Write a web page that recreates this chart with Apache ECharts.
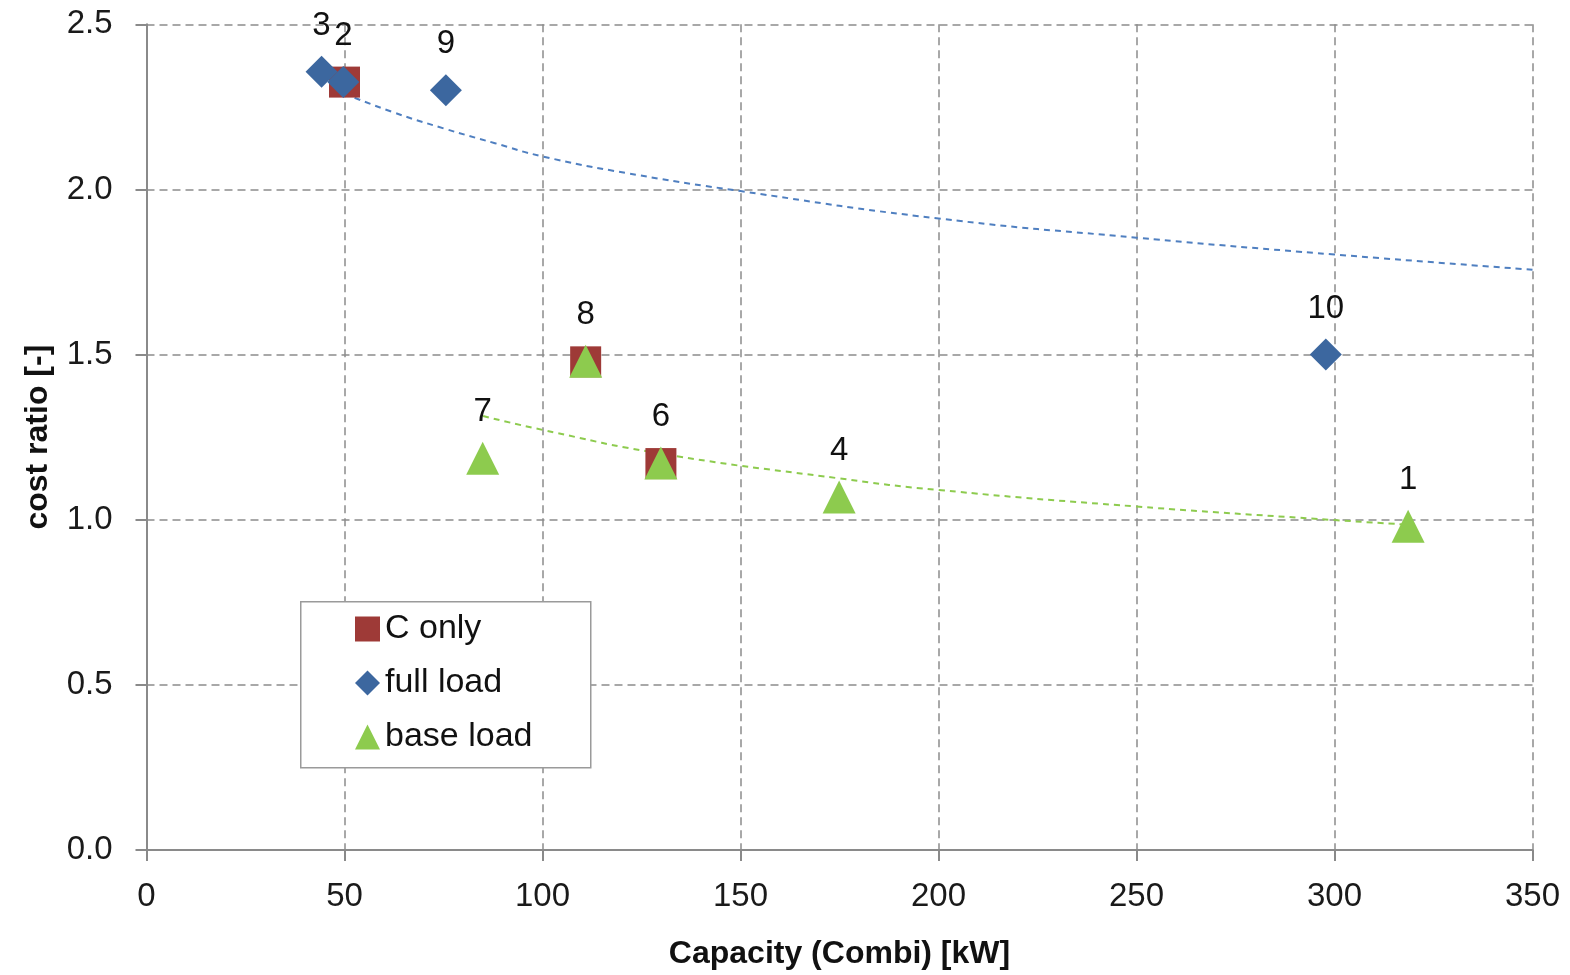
<!DOCTYPE html>
<html>
<head>
<meta charset="utf-8">
<script src="https://cdn.jsdelivr.net/npm/echarts@6/dist/echarts.min.js"></script>
<style>html,body{margin:0;padding:0;background:#fff;}#c{width:1570px;height:975px;}</style>
</head>
<body>
<div id="c"></div>
<script>
// ---- data ----
var cOnlyX = [50, 110.9, 129.9];
var cOnlyY = [2.325, 1.478, 1.17];

var fullLoadX = [44.2, 49.7, 75.6, 297.8];
var fullLoadY = [2.356, 2.325, 2.30, 1.50];
var fullLoadLabels = ['3', '2', '9', '10'];

var baseLoadX = [110.9, 84.9, 129.9, 174.9, 318.6];
var baseLoadY = [1.48, 1.186, 1.172, 1.069, 0.98];
var baseLoadLabels = ['8', '7', '6', '4', '1'];

// trend lines
var fullTrendX = [50, 62, 75, 88, 100, 121, 150, 200, 250, 300, 350];
var fullTrendY = [2.29, 2.235, 2.185, 2.14, 2.10, 2.05, 1.995, 1.912, 1.854, 1.803, 1.757];
var baseTrendX = [85, 100, 130, 175, 200, 250, 300, 320];
var baseTrendY = [1.314, 1.272, 1.20, 1.125, 1.09, 1.04, 0.999, 0.984];

var xTicks = {min: 0, max: 350, interval: 50};
var yTicks = {min: 0, max: 2.5, interval: 0.5};

function pts(xs, ys, labels) {
  return xs.map(function (x, i) {
    var d = {value: [x, ys[i]]};
    if (labels) d.name = labels[i];
    return d;
  });
}

var FONT = '"Liberation Sans", Arial, sans-serif';
var RED = '#9E3A37', BLUE = '#3C679F', GREEN = '#8DCB4E';
var axisColor = '#8a8a8a';

var labelStyle = {
  show: true, position: 'inside', offset: [0, -46], formatter: '{b}',
  fontSize: 33, color: '#111', fontFamily: FONT
};

var chart = echarts.init(document.getElementById('c'), null, {renderer: 'canvas'});
chart.setOption({
  animation: false,
  backgroundColor: '#fff',
  grid: {left: 146.5, right: 37.5, top: 24.3, bottom: 125},
  xAxis: {
    type: 'value', min: xTicks.min, max: xTicks.max, interval: xTicks.interval,
    name: 'Capacity (Combi) [kW]', nameLocation: 'middle', nameGap: 88,
    nameTextStyle: {fontSize: 32, fontWeight: 'bold', color: '#111', fontFamily: FONT},
    axisLine: {show: true, onZero: false, lineStyle: {color: axisColor, width: 2}},
    axisTick: {show: true, inside: false, length: 11, lineStyle: {color: axisColor, width: 2}},
    axisLabel: {fontSize: 33, color: '#1a1a1a', margin: 30, fontFamily: FONT},
    splitLine: {show: true, lineStyle: {color: '#8c8c8c', width: 1.5, type: [8, 5]}}
  },
  yAxis: {
    type: 'value', min: yTicks.min, max: yTicks.max, interval: yTicks.interval,
    name: 'cost ratio [-]', nameLocation: 'middle', nameGap: 92,
    nameTextStyle: {fontSize: 32, fontWeight: 'bold', color: '#111', fontFamily: FONT},
    axisLine: {show: true, lineStyle: {color: axisColor, width: 2}},
    axisTick: {show: true, inside: false, length: 11, lineStyle: {color: axisColor, width: 2}},
    axisLabel: {fontSize: 33, color: '#1a1a1a', margin: 34, fontFamily: FONT,
      formatter: function (v) { return v.toFixed(1); }},
    splitLine: {show: true, lineStyle: {color: '#8c8c8c', width: 1.5, type: [8, 5]}}
  },
  legend: {
    orient: 'vertical', left: 355, top: 612, itemGap: 20, itemTextGap: 8,
    itemWidth: 25, itemHeight: 25, padding: 0, z: 60,
    data: ['C only', 'full load', 'base load'],
    textStyle: {fontSize: 34, color: '#111', fontFamily: FONT},
    itemStyle: {borderWidth: 0}
  },
  graphic: [{
    type: 'rect', z: 50, left: 300, top: 601,
    shape: {width: 290, height: 166},
    style: {fill: '#fff', stroke: '#9a9a9a', lineWidth: 1.5}
  }],
  series: [
    {
      name: 'full trend', type: 'line', data: pts(fullTrendX, fullTrendY),
      smooth: true, symbol: 'none', z: 1,
      lineStyle: {color: '#4F7FC0', width: 2, type: [6, 5]}
    },
    {
      name: 'base trend', type: 'line', data: pts(baseTrendX, baseTrendY),
      smooth: true, symbol: 'none', z: 1,
      lineStyle: {color: '#8DCB4E', width: 2, type: [6, 5]}
    },
    {
      name: 'C only', type: 'scatter', symbol: 'rect', symbolSize: 31,
      data: pts(cOnlyX, cOnlyY), itemStyle: {color: RED, opacity: 1}, z: 2
    },
    {
      name: 'full load', type: 'scatter', symbol: 'diamond', symbolSize: 32,
      data: pts(fullLoadX, fullLoadY, fullLoadLabels), itemStyle: {color: BLUE, opacity: 1}, z: 3,
      label: labelStyle
    },
    {
      name: 'base load', type: 'scatter', symbol: 'triangle', symbolSize: 33,
      data: pts(baseLoadX, baseLoadY, baseLoadLabels), itemStyle: {color: GREEN, opacity: 1}, z: 4,
      label: labelStyle
    }
  ]
});
</script>
</body>
</html>
